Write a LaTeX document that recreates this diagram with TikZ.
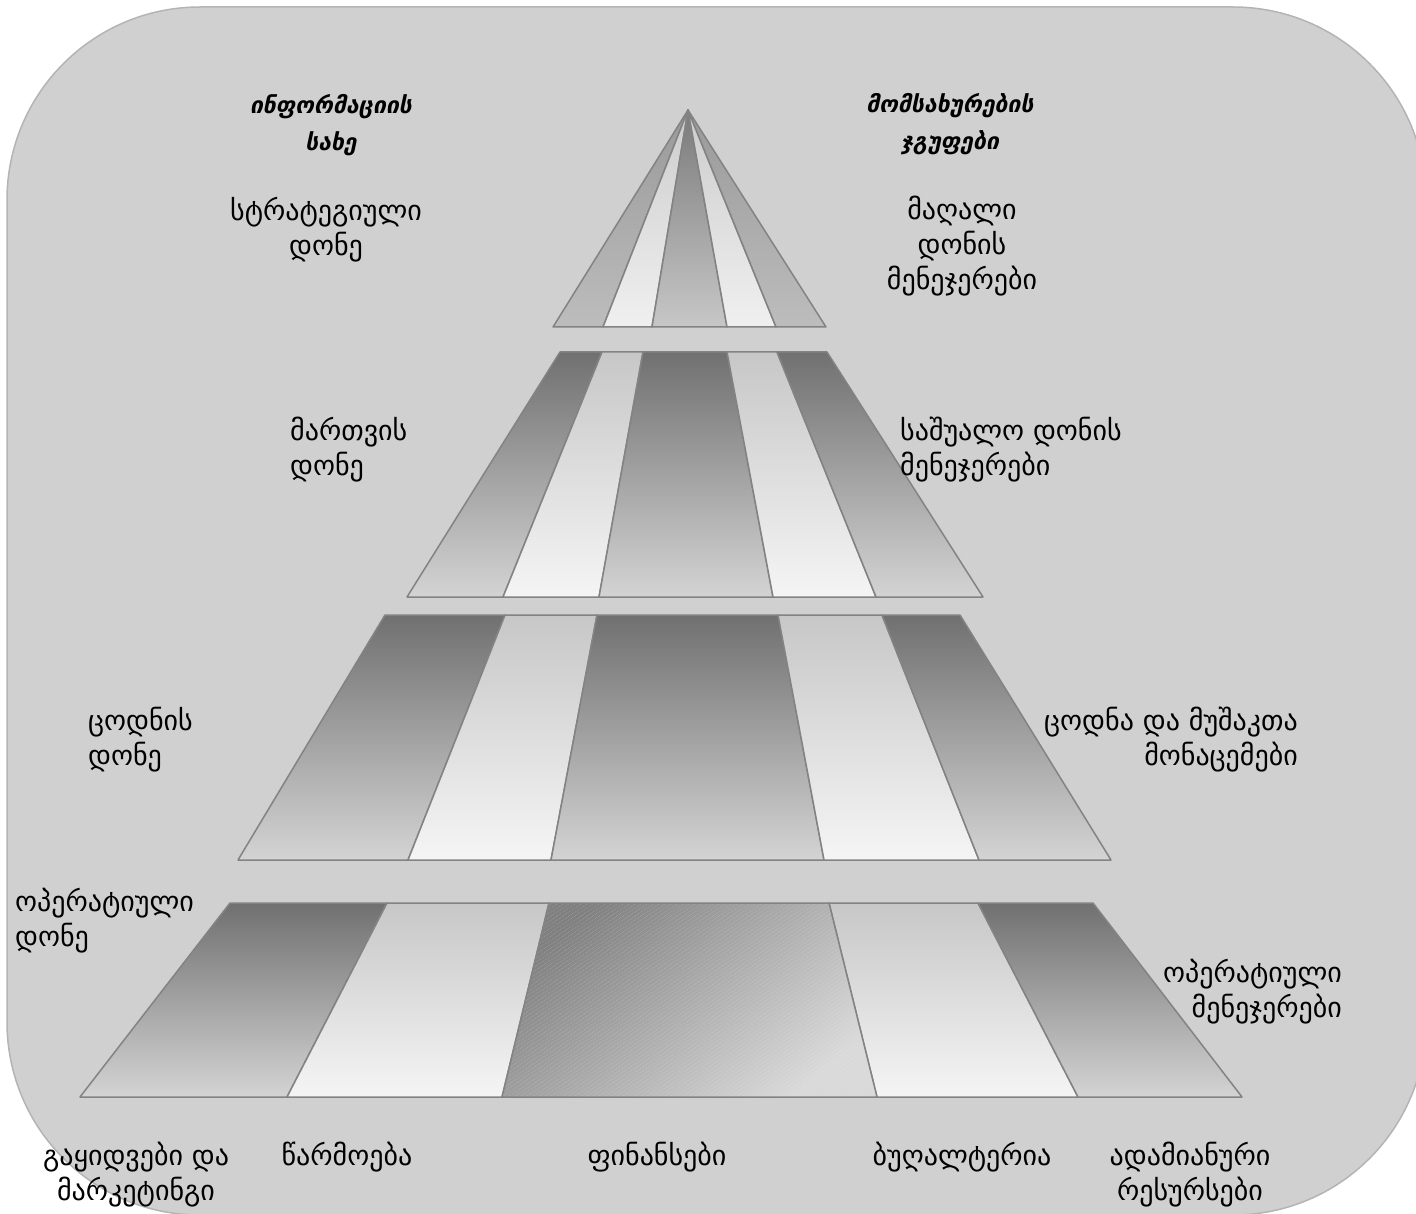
\documentclass[tikz,border=0pt]{standalone}
\usepackage{fontspec}
\newfontfamily\geo{DejaVu Sans}
\definecolor{bgfill}{HTML}{D0D0D0}
\definecolor{bgline}{HTML}{B4B4B4}
\definecolor{edgec}{HTML}{838383}
\tikzset{
  edge/.style={draw=edgec, line width=1.5pt, line join=round},
  darkstrip/.style={edge, top color=black!56, bottom color=black!17},
  lightstrip/.style={edge, top color=black!22, bottom color=black!4},
  topouter/.style={edge, top color=black!40, bottom color=black!26},
  toplight/.style={edge, top color=black!20, bottom color=black!6},
  topcenter/.style={edge, top color=black!52, bottom color=black!22},
  lbl/.style={font=\geo\fontsize{28}{35}\selectfont, inner sep=0pt, text=black},
  ttl/.style={font=\geo\bfseries\itshape\fontsize{23}{37}\selectfont, inner sep=0pt, text=black},
  hatch/.style={white, opacity=0.22, line width=0.7pt, densely dotted}
}
\begin{document}
\begin{tikzpicture}[x=1pt, y=-1pt]
\useasboundingbox (0,0) rectangle (1416,1214);
% background panel
\draw[fill=bgfill, draw=bgline, line width=1.5pt, rounded corners=193pt] (7,7) rectangle (1426,1215);

% ---- tier 1 (apex triangle)
\coordinate (apex) at (688,110);
\path[topouter]  (apex) -- (603,327) -- (553,327) -- cycle;
\path[toplight]  (apex) -- (652,327) -- (603,327) -- cycle;
\path[topcenter] (apex) -- (727,327) -- (652,327) -- cycle;
\path[toplight]  (apex) -- (776,327) -- (727,327) -- cycle;
\path[topouter]  (apex) -- (826,327) -- (776,327) -- cycle;

% ---- tier 2
\path[darkstrip]  (560,352) -- (602,352) -- (503,597) -- (407,597) -- cycle;
\path[lightstrip] (602,352) -- (643,352) -- (599,597) -- (503,597) -- cycle;
\path[darkstrip]  (643,352) -- (727,352) -- (773,597) -- (599,597) -- cycle;
\path[lightstrip] (727,352) -- (777,352) -- (876,597) -- (773,597) -- cycle;
\path[darkstrip]  (777,352) -- (827,352) -- (983,597) -- (876,597) -- cycle;

% ---- tier 3
\path[darkstrip]  (385,615) -- (505,615) -- (408,860) -- (238,860) -- cycle;
\path[lightstrip] (505,615) -- (597,615) -- (551,860) -- (408,860) -- cycle;
\path[darkstrip]  (597,615) -- (778,615) -- (824,860) -- (551,860) -- cycle;
\path[lightstrip] (778,615) -- (882,615) -- (979,860) -- (824,860) -- cycle;
\path[darkstrip]  (882,615) -- (960,615) -- (1111,860) -- (979,860) -- cycle;

% ---- tier 4
\path[darkstrip]  (230,903) -- (387,903) -- (287,1097) -- (80,1097) -- cycle;
\path[lightstrip] (387,903) -- (549,903) -- (502,1097) -- (287,1097) -- cycle;
\path[lightstrip] (829,903) -- (978,903) -- (1078,1097) -- (877,1097) -- cycle;
\path[darkstrip]  (978,903) -- (1093,903) -- (1242,1097) -- (1078,1097) -- cycle;
\shade[top color=black!50, bottom color=black!15, shading angle=40]
  (549,903) -- (829,903) -- (877,1097) -- (502,1097) -- cycle;
\begin{scope}
  \clip (549,903) -- (829,903) -- (877,1097) -- (502,1097) -- cycle;
  \foreach \x in {200,206,...,900} { \draw[hatch] (\x,1110) -- ++(330,-220); }
\end{scope}
\draw[edge] (549,903) -- (829,903) -- (877,1097) -- (502,1097) -- cycle;

% ---- labels
\node[ttl, align=center] (ttlA) at (331,125) {ინფორმაციის\\სახე};
\node[ttl, align=center] (ttlB) at (950,124) {მომსახურების\\ჯგუფები};
\node[lbl, align=center] (strat) at (326,230) {სტრატეგიული\\დონე};
\node[lbl, align=center] (high) at (962,246) {მაღალი\\დონის\\მენეჯერები};
\node[lbl, align=left, anchor=west] (mgmt) at (290,450) {მართვის\\დონე};
\node[lbl, align=left, anchor=west] (midm) at (900,450) {საშუალო დონის\\მენეჯერები};
\node[lbl, align=left, anchor=west] (know) at (88,740) {ცოდნის\\დონე};
\node[lbl, align=right, anchor=east] (kdata) at (1298,740) {ცოდნა და მუშაკთა\\მონაცემები};
\node[lbl, align=left, anchor=west] (oplvl) at (15,921) {ოპერატიული\\დონე};
\node[lbl, align=right, anchor=east] (opmgr) at (1342,992) {ოპერატიული\\მენეჯერები};
\node[lbl, align=center] (sales) at (136,1175) {გაყიდვები და\\მარკეტინგი};
\node[lbl] (prod) at (347,1157) {წარმოება};
\node[lbl] (fin) at (657,1157) {ფინანსები};
\node[lbl] (acc) at (962,1157) {ბუღალტერია};
\node[lbl, align=center] (hr) at (1190,1175) {ადამიანური\\რესურსები};
\end{tikzpicture}
\end{document}
